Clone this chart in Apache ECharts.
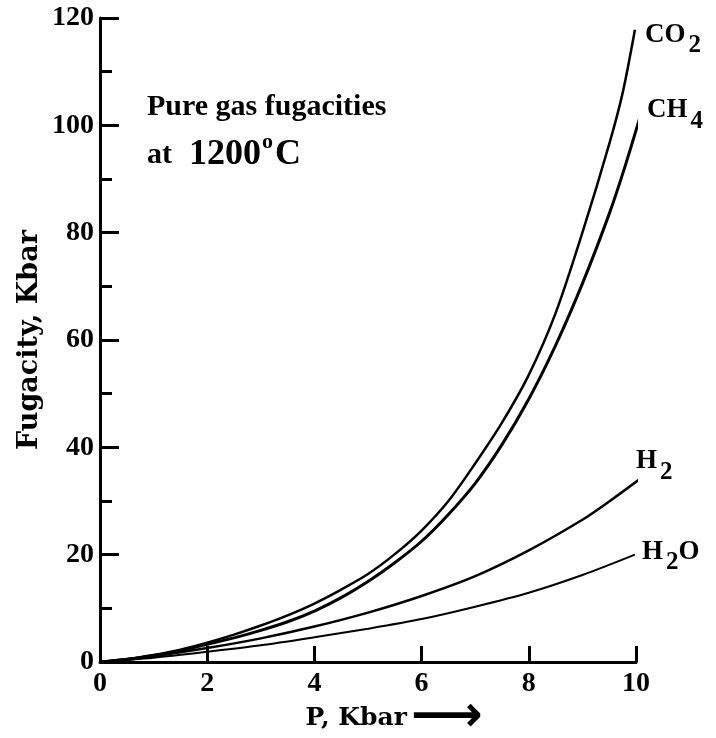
<!DOCTYPE html>
<html>
<head>
<meta charset="utf-8">
<script src="https://cdn.jsdelivr.net/npm/echarts@6/dist/echarts.min.js"></script>
<style>
  html, body { margin: 0; padding: 0; background: #fff; }
  #chart { width: 716px; height: 738px; }
</style>
</head>
<body>
<div id="chart"></div>
<script>
// Pressure (Kbar) sample points and fugacities (Kbar) for each gas
var pCO2 = [0, 0.5, 1, 1.5, 2, 2.5, 3, 3.5, 4, 4.5, 5, 5.5, 6, 6.5, 7, 7.5, 8, 8.5, 9, 9.5, 9.75, 9.98];
var fCO2 = [0, 0.5, 1.3, 2.3, 3.6, 5.1, 6.8, 8.7, 10.9, 13.5, 16.4, 20.1, 24.5, 30, 37, 44.6, 53.5, 65, 80, 96.5, 106, 117.8];

var pCH4 = [0, 0.5, 1, 1.5, 2, 2.5, 3, 3.5, 4, 4.5, 5, 5.5, 6, 6.5, 7, 7.5, 8, 8.5, 9, 9.5, 9.8, 10.13];
var fCH4 = [0, 0.45, 1.2, 2.1, 3.3, 4.5, 5.9, 7.5, 9.5, 12, 15, 18.5, 22.5, 27.5, 33.3, 40.5, 49, 59, 70.5, 83.5, 92.5, 103.4];

var pH2 = [0, 1, 2, 3, 4, 5, 6, 7, 8, 9, 9.5, 10.1];
var fH2 = [0, 1.1, 2.6, 4.4, 6.6, 9.2, 12.3, 16.0, 20.8, 26.5, 29.9, 34.3];

var pH2O = [0, 1, 2, 3, 4, 5, 6, 7, 8, 9, 9.98];
var fH2O = [0, 0.8, 1.9, 3.1, 4.6, 6.2, 8.0, 10.3, 12.9, 16.2, 20];

var FONT = '"Liberation Serif", "Times New Roman", serif';
var WIDE = '"DejaVu Serif", serif';

function pairs(xs, ys) {
  return xs.map(function (x, i) { return [x, ys[i]]; });
}

// Chemical formula label with a lowered subscript digit
function formula(main, sub, tail) {
  var s = '{m|' + main + '}{s|' + sub + '}';
  if (tail) s += '{m|' + tail + '}';
  return s;
}
var formulaRich = {
  m: { fontFamily: FONT, fontWeight: 'bold', fontSize: 27, lineHeight: 27, color: '#000' },
  s: { fontFamily: FONT, fontWeight: 'bold', fontSize: 25, lineHeight: 25,
       verticalAlign: 'top', padding: [12, 0, 0, 3], color: '#000' }
};

function gasSeries(name, xs, ys, width, labelText, offset) {
  return {
    name: name,
    type: 'line',
    data: pairs(xs, ys),
    smooth: 0.3,
    symbol: 'none',
    clip: false,
    lineStyle: { color: '#000', width: width },
    endLabel: {
      show: true,
      formatter: labelText,
      rich: formulaRich,
      offset: offset,
      distance: 5
    },
    silent: true,
    animation: false
  };
}

var chart = echarts.init(document.getElementById('chart'));
chart.setOption({
  backgroundColor: '#fff',
  animation: false,
  grid: { left: 100, right: 80, top: 18, bottom: 76, containLabel: false, outerBoundsMode: 'none' },
  title: {
    left: 147,
    top: 83,
    padding: 0,
    text: '{a|Pure gas fugacities}\n{a2|at}{d|1200}{o|o}{d|C}',
    textStyle: {
      rich: {
        a: { fontFamily: FONT, fontWeight: 'bold', fontSize: 30, lineHeight: 48, color: '#000' },
        a2: { fontFamily: FONT, fontWeight: 'bold', fontSize: 30, lineHeight: 48, color: '#000',
              padding: [0, 17, 0, 0] },
        d: { fontFamily: FONT, fontWeight: 'bold', fontSize: 36, lineHeight: 48, color: '#000' },
        o: { fontFamily: FONT, fontWeight: 'bold', fontSize: 22, lineHeight: 22,
             verticalAlign: 'top', padding: [0, 2, 0, 1], color: '#000' }
      }
    }
  },
  xAxis: {
    type: 'value',
    min: 0,
    max: 10,
    interval: 2,
    name: '{n|P, Kbar}{a|⟶}',
    nameLocation: 'middle',
    nameGap: 41,
    nameMoveOverlap: false,
    nameTextStyle: {
      padding: [0, 0, 0, 52],
      rich: {
        n: { fontFamily: WIDE, fontWeight: 'bold', fontSize: 25, lineHeight: 30, color: '#000' },
        a: { fontFamily: '"DejaVu Sans"', fontWeight: 'bold', fontSize: 50, lineHeight: 30,
             color: '#000', padding: [0, 0, 0, 4] }
      }
    },
    axisLine: { show: true, lineStyle: { color: '#000', width: 3 } },
    axisTick: { show: true, inside: true, length: 16, lineStyle: { color: '#000', width: 3 } },
    axisLabel: { show: true, margin: 8, fontFamily: FONT, fontWeight: 'bold', fontSize: 28,
                 color: '#000', showMinLabel: true, showMaxLabel: true },
    splitLine: { show: false }
  },
  yAxis: {
    type: 'value',
    min: 0,
    max: 120,
    interval: 20,
    name: 'Fugacity, Kbar',
    nameLocation: 'middle',
    nameGap: 57,
    nameMoveOverlap: false,
    nameRotate: 90,
    nameTextStyle: { fontFamily: WIDE, fontWeight: 'bold', fontSize: 27, color: '#000' },
    axisLine: { show: true, lineStyle: { color: '#000', width: 3 } },
    axisTick: { show: true, inside: true, length: 19, lineStyle: { color: '#000', width: 3 } },
    minorTick: { show: true, splitNumber: 2, length: 12, lineStyle: { color: '#000', width: 3 } },
    axisLabel: { show: true, margin: 6, fontFamily: FONT, fontWeight: 'bold', fontSize: 28,
                 color: '#000', showMinLabel: true, showMaxLabel: true },
    splitLine: { show: false },
    minorSplitLine: { show: false }
  },
  series: [
    gasSeries('CO2', pCO2, fCO2, 2.5, formula('CO', '2'), [5, 5]),
    gasSeries('CH4', pCH4, fCH4, 3, formula('CH', '4'), [4, -13]),
    gasSeries('H2', pH2, fH2, 2.5, formula('H', '2'), [-7, -19]),
    gasSeries('H2O', pH2O, fH2O, 2, formula('H', '2', 'O'), [2, -3])
  ]
});
</script>
</body>
</html>
